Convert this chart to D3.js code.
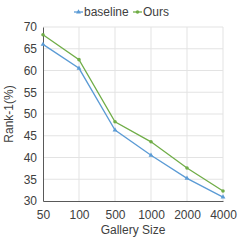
<!doctype html>
<html>
<head>
<meta charset="utf-8">
<script src="https://cdn.jsdelivr.net/npm/d3@7/dist/d3.min.js"></script>
<style>
  body { margin: 0; background: #fff; }
  text { font-family: "Liberation Sans", Arial, sans-serif; fill: #404040; }
</style>
</head>
<body>
<svg id="chart" width="242" height="242"></svg>
<script>
  var gallerySizes = ['50', '100', '500', '1000', '2000', '4000'];
  var baseline = [66.0, 60.5, 46.3, 40.5, 35.2, 30.9];
  var ours = [68.2, 62.5, 48.2, 43.6, 37.6, 32.3];
  var yTicks = [30, 35, 40, 45, 50, 55, 60, 65, 70];

  var series = [
    { name: 'baseline', values: baseline, color: '#5b9bd5', marker: d3.symbolTriangle },
    { name: 'Ours', values: ours, color: '#70ad47', marker: d3.symbolCircle }
  ];

  var margin = { top: 27, right: 19, bottom: 41, left: 43 };
  var width = 242 - margin.left - margin.right,
    height = 242 - margin.top - margin.bottom;
  var fs = '12px';

  var svg = d3.select('#chart');
  var g = svg.append('g').attr('transform', 'translate(' + margin.left + ',' + margin.top + ')');

  var x = d3.scalePoint().domain(gallerySizes).range([0, width]).padding(0);
  var y = d3.scaleLinear().domain([30, 70]).range([height, 0]);

  // grid
  g.append('g').selectAll('line').data(yTicks.slice(1))
    .enter().append('line')
    .attr('x1', 0).attr('x2', width)
    .attr('y1', function (d) { return y(d); }).attr('y2', function (d) { return y(d); })
    .attr('stroke', '#e3e3e3').attr('stroke-width', 1);
  g.append('g').selectAll('line').data(gallerySizes.slice(1))
    .enter().append('line')
    .attr('x1', function (d) { return x(d); }).attr('x2', function (d) { return x(d); })
    .attr('y1', 0).attr('y2', height)
    .attr('stroke', '#e3e3e3').attr('stroke-width', 1);

  // axes
  var yAxis = g.append('g').call(d3.axisLeft(y).tickValues(yTicks).tickSize(0).tickPadding(6));
  yAxis.select('.domain').attr('stroke', '#595959');
  yAxis.selectAll('text').style('font-size', fs).attr('fill', '#404040');

  var xAxis = g.append('g').attr('transform', 'translate(0,' + height + ')')
    .call(d3.axisBottom(x).tickSize(0).tickPadding(9));
  xAxis.select('.domain').attr('stroke', '#595959');
  xAxis.selectAll('text').style('font-size', fs).attr('fill', '#404040');

  // lines
  var line = d3.line()
    .x(function (d, i) { return x(gallerySizes[i]); })
    .y(function (d) { return y(d); });

  series.forEach(function (s) {
    g.append('path').datum(s.values)
      .attr('d', line).attr('fill', 'none')
      .attr('stroke', s.color).attr('stroke-width', 1.3);
    g.append('g').selectAll('path').data(s.values)
      .enter().append('path')
      .attr('d', d3.symbol().type(s.marker).size(10))
      .attr('transform', function (d, i) { return 'translate(' + x(gallerySizes[i]) + ',' + y(d) + ')'; })
      .attr('fill', s.color);
  });

  // axis titles
  svg.append('text')
    .attr('transform', 'translate(13,' + (margin.top + height / 2) + ') rotate(-90)')
    .attr('text-anchor', 'middle').style('font-size', fs)
    .text('Rank-1(%)');
  svg.append('text')
    .attr('x', margin.left + width / 2).attr('y', 234)
    .attr('text-anchor', 'middle').style('font-size', fs)
    .text('Gallery Size');

  // legend
  var legend = svg.append('g').attr('transform', 'translate(74,12)');
  var offsets = [0, 59];
  series.forEach(function (s, i) {
    var lg = legend.append('g').attr('transform', 'translate(' + offsets[i] + ',0)');
    lg.append('line').attr('x1', 0).attr('x2', 9).attr('y1', 0).attr('y2', 0)
      .attr('stroke', s.color).attr('stroke-width', 1.3);
    lg.append('path').attr('d', d3.symbol().type(s.marker).size(10))
      .attr('transform', 'translate(4.5,0)').attr('fill', s.color);
    lg.append('text').attr('x', 10).attr('y', 4).style('font-size', fs).text(s.name);
  });
</script>
</body>
</html>
